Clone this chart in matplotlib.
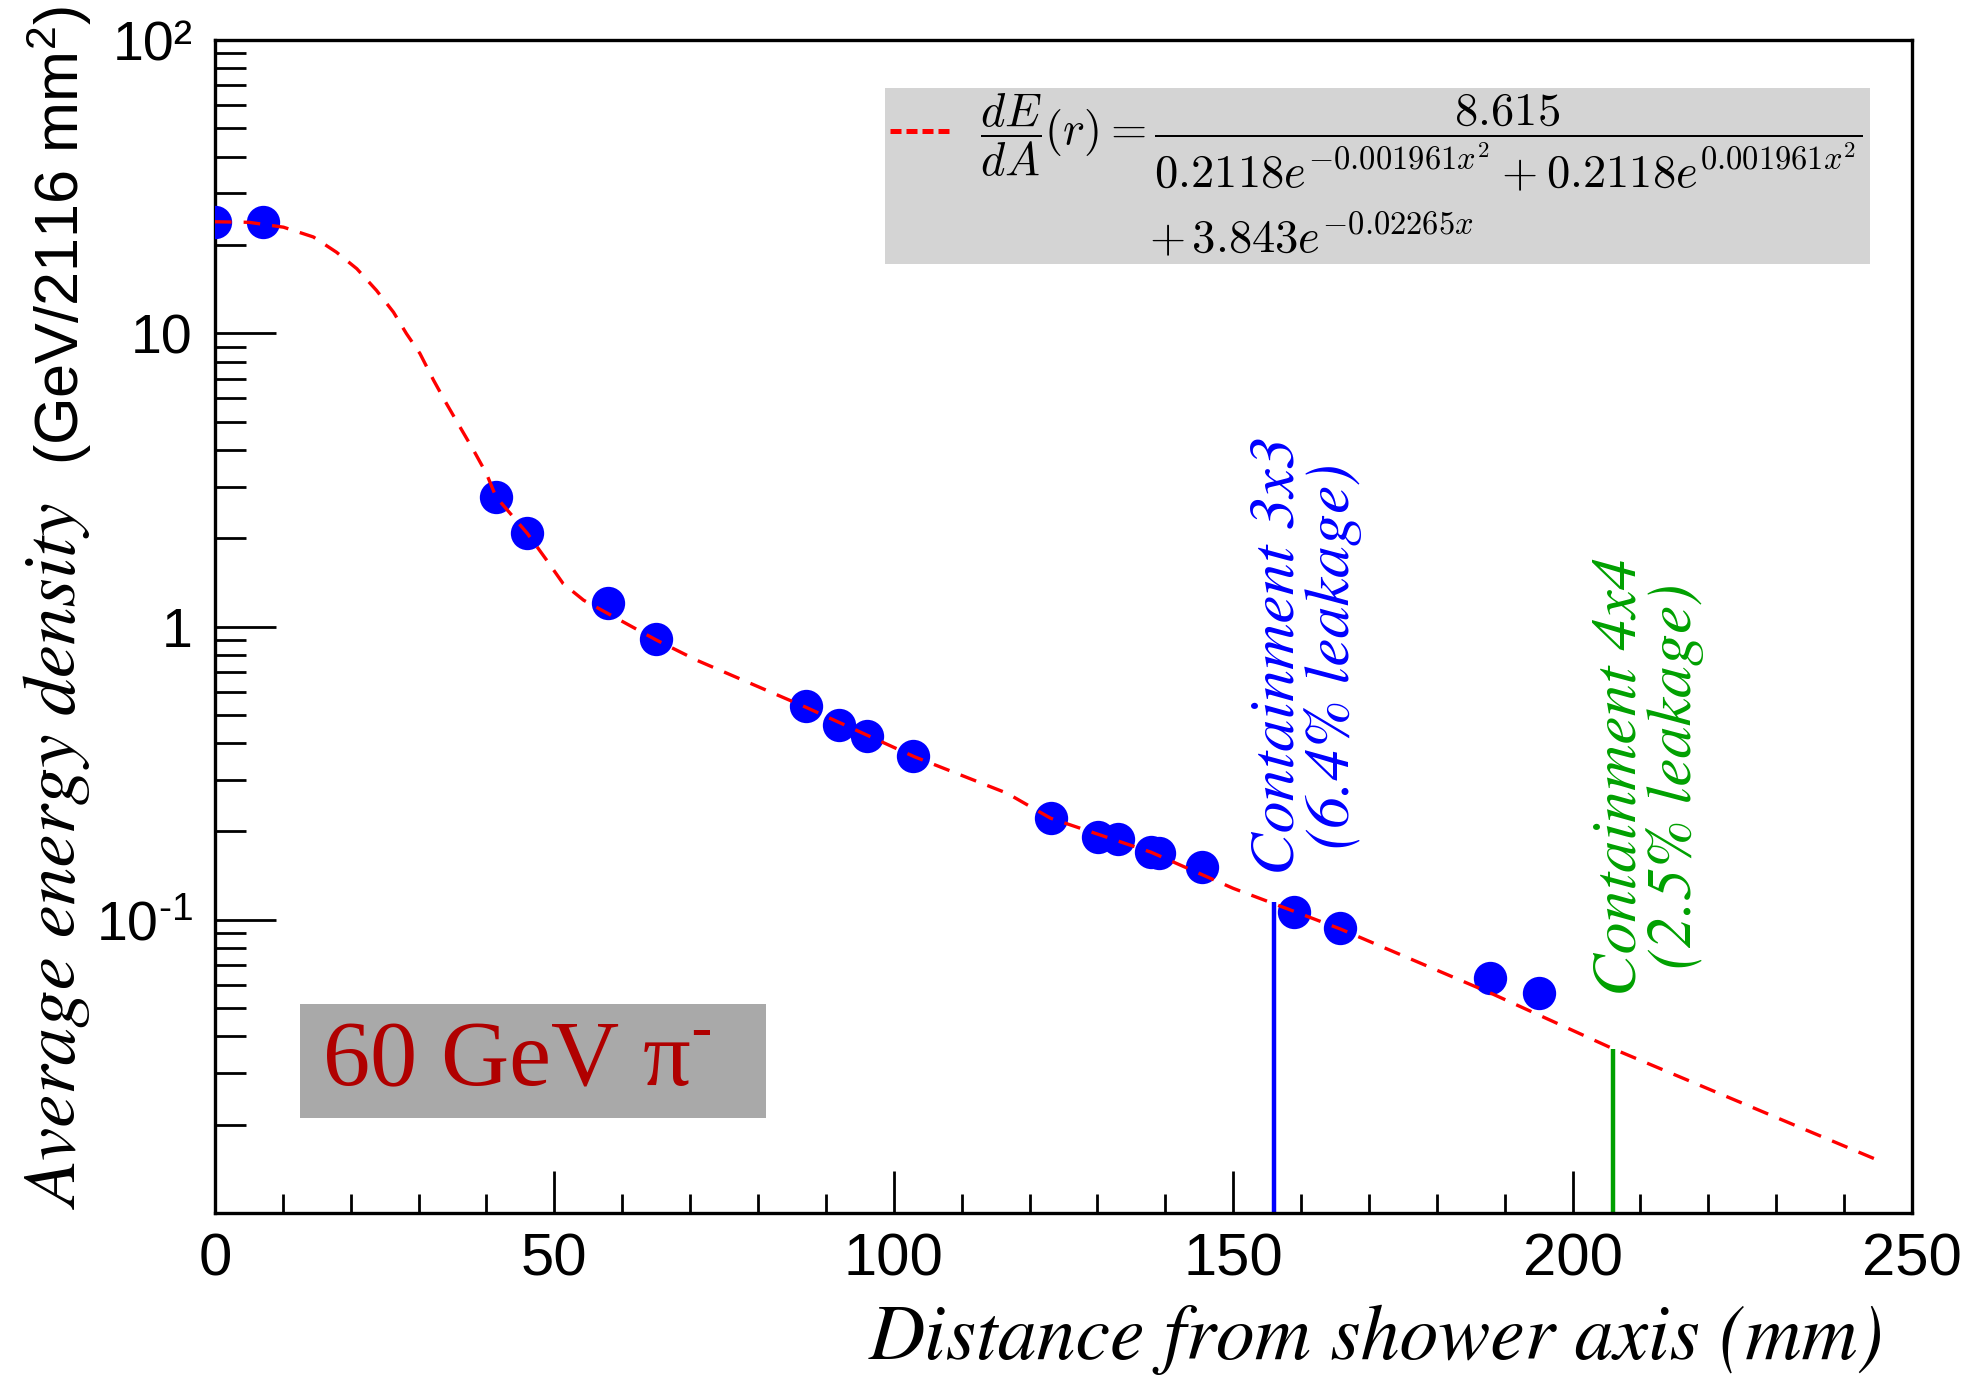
import matplotlib
matplotlib.use('Agg')
import matplotlib.pyplot as plt
from matplotlib.patches import Rectangle
from matplotlib.ticker import FixedLocator, MultipleLocator, LogLocator, NullFormatter

# measured points (distance in mm, energy density)
r_mm = [0.0, 7.1, 41.4, 46.0, 57.9, 65.0, 87.1, 92.0, 96.1, 102.9,
        123.1, 130.1, 133.1, 137.9, 139.1, 145.4, 158.9, 165.8, 187.9, 195.0]
density = [24.0, 24.0, 2.77, 2.08, 1.20, 0.91, 0.536, 0.461, 0.423, 0.361,
           0.2215, 0.191, 0.188, 0.170, 0.169, 0.151, 0.106, 0.0938, 0.0635, 0.0561]

# fitted curve
fit_r = [0, 5, 10.1, 14.5, 17.9, 20.9, 23.8, 26.3, 28.2, 30.2, 32.2, 34.1, 36.1,
         38.1, 40.0, 41.4, 46.0, 48.9, 51.3, 54.3, 57.5, 65.0, 71.0, 87.1, 103,
         116.7, 123.1, 137.9, 150, 158.9, 165.8, 188.1, 206.1, 245.1]
fit_density = [24.0, 23.9, 23.0, 21.3, 18.9, 16.6, 14.0, 11.8, 9.98, 8.53, 6.92,
               5.76, 4.79, 3.99, 3.32, 2.77, 2.08, 1.68, 1.40, 1.23, 1.12, 0.90,
               0.767, 0.53, 0.36, 0.27, 0.222, 0.17, 0.128, 0.107, 0.093, 0.056,
               0.0362, 0.0151]

# containment radii and the height of their markers
cut_3x3, cut_3x3_top = 156.0, 0.115
cut_4x4, cut_4x4_top = 206.0, 0.0362

x_ticks = [0, 50, 100, 150, 200, 250]
y_ticks = [0.01, 0.1, 1, 10, 100]
y_tick_labels = ['', r'$10^{\text{-}1}$', '1', '10', '10²']

plt.rcParams['font.family'] = ['Liberation Sans', 'DejaVu Sans']
plt.rcParams['mathtext.fontset'] = 'custom'
plt.rcParams['mathtext.rm'] = 'Liberation Sans'
plt.rcParams['mathtext.it'] = 'Liberation Sans:italic'

serif_it = dict(family='STIXGeneral', style='italic')

fig = plt.figure(figsize=(19.63, 13.80), dpi=100)
ax = fig.add_axes([0.1095, 0.1210, 0.8645, 0.8500])

ax.plot(r_mm, density, 'o', color='#0000ff', ms=24, mec='none', zorder=3)
ax.plot(fit_r, fit_density, color='#ff0000', lw=2.4, dashes=(5.0, 3.6), zorder=4)
ax.vlines(cut_3x3, 0.01, cut_3x3_top, color='#0000ff', lw=3.2, zorder=2)
ax.vlines(cut_4x4, 0.01, cut_4x4_top, color='#00a000', lw=3.2, zorder=2)

ax.set_yscale('log')
ax.set_xlim(0, 250)
ax.set_ylim(0.01, 100)

ax.xaxis.set_major_locator(FixedLocator(x_ticks))
ax.xaxis.set_minor_locator(MultipleLocator(10))
ax.set_xticklabels([str(t) for t in x_ticks])
ax.yaxis.set_major_locator(FixedLocator(y_ticks))
ax.yaxis.set_minor_locator(LogLocator(base=10, subs=range(2, 10)))
ax.yaxis.set_minor_formatter(NullFormatter())
ax.set_yticklabels(y_tick_labels)

ax.tick_params(axis='x', which='major', direction='in', length=30, width=2,
               labelsize=43, pad=14, top=False)
ax.tick_params(axis='x', which='minor', direction='in', length=14, width=2, top=False)
ax.tick_params(axis='y', which='major', direction='in', length=44, width=2,
               labelsize=40, pad=16, right=False)
ax.tick_params(axis='y', which='minor', direction='in', length=22, width=2, right=False)
for s in ax.spines.values():
    s.set_linewidth(2.4)

# fit legend
ax.add_patch(Rectangle((0.3948, 0.809), 0.5805, 0.150, transform=ax.transAxes,
                       fc='#d4d4d4', ec='none', zorder=5))
ax.plot([0.398, 0.4355], [0.9224, 0.9224], transform=ax.transAxes, color='#ff0000',
        lw=3.6, dashes=(2.2, 1.0), zorder=6)
ax.text(0.4508, 0.913,
        r'$\dfrac{dE}{dA}(r) = \dfrac{8.615}{0.2118e^{-0.001961x^{2}}+0.2118e^{0.001961x^{2}}}$',
        transform=ax.transAxes, ha='left', va='center', fontsize=33.5,
        math_fontfamily='cm', zorder=6)
ax.text(0.5504, 0.8184, r'$+\,3.843e^{-0.02265x}$', transform=ax.transAxes,
        ha='left', va='baseline', fontsize=33.5, math_fontfamily='cm', zorder=6)

# beam label
ax.add_patch(Rectangle((0.0501, 0.081), 0.2746, 0.097, transform=ax.transAxes,
                       fc='#a9a9a9', ec='none', zorder=5))
ax.text(0.178, 0.128, r'60 GeV π$^{\text{-}}$', transform=ax.transAxes, ha='center',
        va='center', family='Liberation Serif', fontsize=68, color='#b00000', zorder=6)

# containment annotations
ax.text(0.643, 0.475, 'Containment 3x3\n(6.4% leakage)', transform=ax.transAxes,
        rotation=90, ha='center', va='center', multialignment='center', linespacing=0.95,
        fontsize=46, color='#0000ff', **serif_it)
ax.text(0.8445, 0.372, 'Containment 4x4\n(2.5% leakage)', transform=ax.transAxes,
        rotation=90, ha='center', va='center', multialignment='center', linespacing=0.95,
        fontsize=46, color='#00a000', **serif_it)

# axis titles
ax.text(-0.091, 0.3035, 'Average energy density', transform=ax.transAxes, rotation=90,
        ha='center', va='center', fontsize=54, **serif_it)
ax.text(-0.092, 0.833, '(GeV/2116 mm$^{2}$)', transform=ax.transAxes, rotation=90,
        ha='center', va='center', fontsize=44)
ax.text(0.9835, -0.108, 'Distance from shower axis (mm)', transform=ax.transAxes,
        ha='right', va='center', fontsize=56, **serif_it)

fig.savefig('out.png', dpi=100)
